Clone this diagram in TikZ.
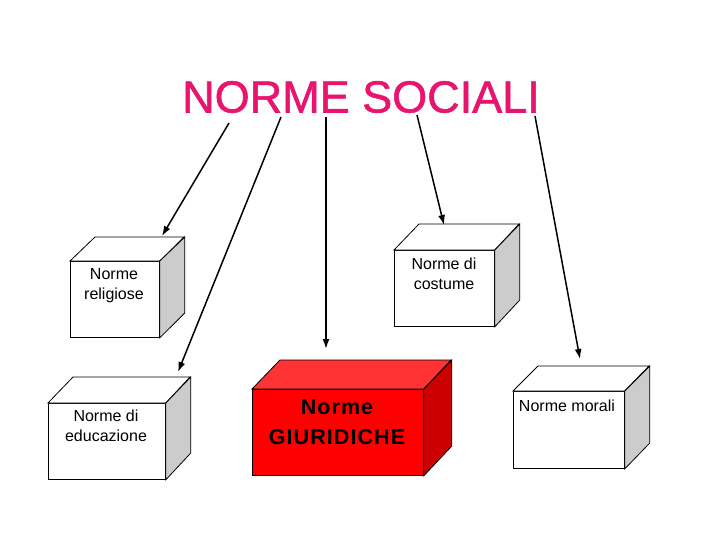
\documentclass[tikz,border=0pt]{standalone}
\usepackage{fontspec}
\setmainfont{Liberation Sans}
\usetikzlibrary{arrows.meta}
\definecolor{titlecol}{RGB}{232,20,110}
\definecolor{sidegray}{RGB}{204,204,204}
\definecolor{redfront}{RGB}{255,0,0}
\definecolor{redtop}{RGB}{255,51,51}
\definecolor{redside}{RGB}{204,0,0}
\tikzset{
  face/.style={draw=black, line width=0.8pt, line join=miter},
  frontface/.style={face, rectangle, inner sep=0pt, anchor=north west},
  boxtext/.style={align=center, font=\fontsize{16}{20}\selectfont, inner sep=0pt},
  conn/.style={line width=1.5pt, -{Latex[length=10pt,width=7pt]}},
}
% #1 name, #2 x, #3 y, #4 w, #5 h, #6 dx, #7 dy, #8 front, #9 top, side colour via \cubeside
\newcommand\mycube[9]{%
  \node[frontface, fill=#8, minimum width=#4pt, minimum height=#5pt] (#1) at (#2,#3) {};
  \draw[face, fill=#9] (#1.north west) -- ++(#6,-#7) -- ++(#4,0) -- (#1.north east) -- cycle;
  \draw[face, fill=\cubeside] (#1.north east) -- ++(#6,-#7) -- ++(0,#5) -- (#1.south east) -- cycle;
}
\begin{document}
\begin{tikzpicture}[x=1pt,y=-1pt]
\useasboundingbox[fill=white] (0,0) rectangle (720,540);
\node[text=titlecol, font=\fontsize{45}{50}\selectfont\addfontfeature{FakeBold=1.2}, inner sep=0pt] (title) at (361,97) {NORME SOCIALI};

\def\cubeside{sidegray}
\mycube{rel}{70}{261}{89}{76}{25}{24}{white}{white}
\mycube{cos}{394}{250}{100}{76}{25}{26}{white}{white}
\mycube{edu}{48}{403}{117}{76}{25}{26}{white}{white}
\mycube{mor}{513}{391}{111}{77}{25}{25}{white}{white}
\def\cubeside{redside}
\mycube{giu}{252}{389}{171}{86}{28}{29}{redfront}{redtop}

\node[boxtext] (trel) at (114,286) {Norme\\religiose};
\node[boxtext] (tcos) at (444,274) {Norme di\\costume};
\node[boxtext] (tedu) at (106,426) {Norme di\\educazione};
\node[boxtext] (tmor) at (567,406) {Norme morali};
\node[align=center, inner sep=0pt, font=\fontsize{21.5}{30}\selectfont\bfseries\addfontfeature{LetterSpace=5}] (tgiu) at (337,422) {Norme\\GIURIDICHE};

\coordinate (s1) at (229,123);
\coordinate (s2) at (281,117);
\coordinate (s3) at (326,117);
\coordinate (s4) at (417,115);
\coordinate (s5) at (535,116);
\coordinate (e1) at (162,236);
\coordinate (e2) at (178,372);
\coordinate (e3) at (326,349);
\coordinate (e4) at (444,225);
\coordinate (e5) at (580,359);
\draw[conn] (s1) -- (e1);
\draw[conn] (s2) -- (e2);
\draw[conn] (s3) -- (e3);
\draw[conn] (s4) -- (e4);
\draw[conn] (s5) -- (e5);
\end{tikzpicture}
\end{document}
